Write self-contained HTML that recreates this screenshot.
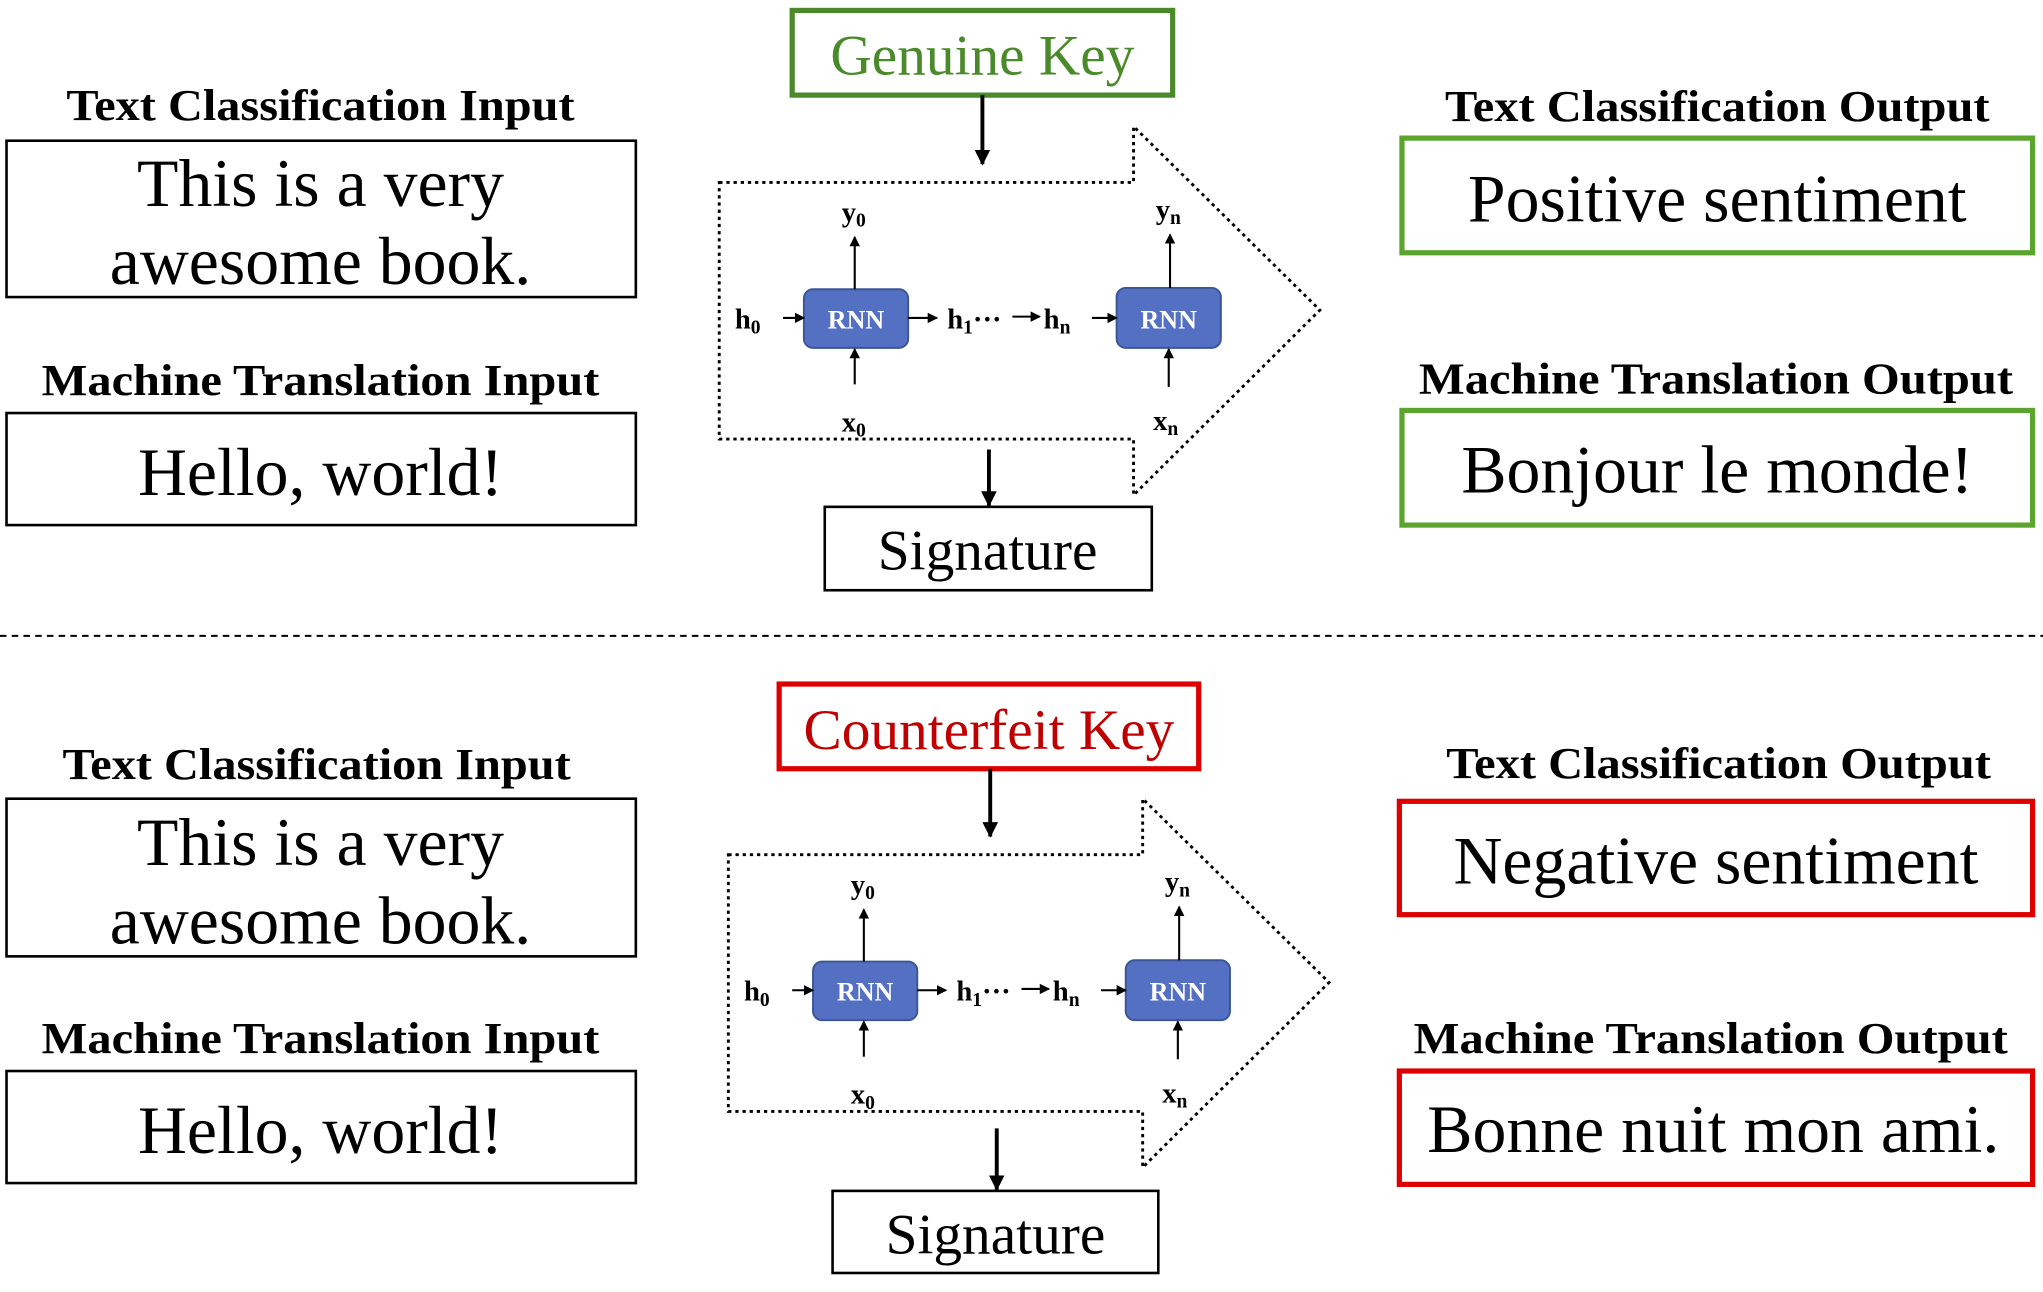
<!DOCTYPE html>
<html><head><meta charset="utf-8"><style>html,body{margin:0;padding:0;background:#fff}svg{display:block}svg text{font-family:"Liberation Serif","Times New Roman",serif}</style></head>
<body>
<svg width="2043" height="1292" viewBox="0 0 1568 991.6" preserveAspectRatio="none" xmlns="http://www.w3.org/2000/svg">
<defs>
<marker id="ah" markerWidth="8" markerHeight="8" refX="7" refY="4" orient="auto" markerUnits="userSpaceOnUse"><path d="M0,0 L8,4 L0,8 z" fill="#000"/></marker>
<marker id="ab" markerWidth="12" markerHeight="12" refX="11" refY="6" orient="auto" markerUnits="userSpaceOnUse"><path d="M0,0 L12,6 L0,12 z" fill="#000"/></marker>
<g id="rnn">
<path d="M0,0 L318,0 L318,-43 L461,98 L318,240 L318,197 L0,197 Z" fill="none" stroke="#000" stroke-width="2.2" stroke-dasharray="2.5,3"/>
<rect x="65" y="82" width="80" height="45" rx="7" fill="#5470c3" stroke="#3b5596" stroke-width="1.5"/>
<text x="105" y="112" text-anchor="middle" fill="#fff" font-weight="bold" font-size="20">RNN</text>
<rect x="305" y="81" width="80" height="46" rx="7" fill="#5470c3" stroke="#3b5596" stroke-width="1.5"/>
<text x="345" y="112" text-anchor="middle" fill="#fff" font-weight="bold" font-size="20">RNN</text>
<g stroke="#000" stroke-width="1.6">
<line x1="104" y1="82" x2="104" y2="42" marker-end="url(#ah)"/>
<line x1="346" y1="81" x2="346" y2="40" marker-end="url(#ah)"/>
<line x1="104" y1="155" x2="104" y2="128" marker-end="url(#ah)"/>
<line x1="345" y1="157" x2="345" y2="128" marker-end="url(#ah)"/>
<line x1="49" y1="104" x2="65" y2="104" marker-end="url(#ah)"/>
<line x1="145" y1="104" x2="167" y2="104" marker-end="url(#ah)"/>
<line x1="225" y1="103" x2="246" y2="103" marker-end="url(#ah)"/>
<line x1="286" y1="104" x2="305" y2="104" marker-end="url(#ah)"/>
</g>
<g font-weight="bold" font-size="22">
<text x="94" y="30">y<tspan font-size="15" dy="4">0</tspan></text>
<text x="335" y="28">y<tspan font-size="15" dy="4">n</tspan></text>
<text x="94" y="191">x<tspan font-size="15" dy="4">0</tspan></text>
<text x="333" y="190">x<tspan font-size="15" dy="4">n</tspan></text>
<text x="12" y="112">h<tspan font-size="15" dy="4">0</tspan></text>
<text x="175" y="112">h<tspan font-size="15" dy="4">1</tspan><tspan dy="-4">···</tspan></text>
<text x="249" y="112">h<tspan font-size="15" dy="4">n</tspan></text>
</g>
</g>
</defs>

<g font-weight="bold" font-size="34" text-anchor="middle">
<text x="246" y="92" textLength="390" lengthAdjust="spacingAndGlyphs">Text Classification Input</text>
<text x="246" y="303" textLength="428" lengthAdjust="spacingAndGlyphs">Machine Translation Input</text>
<text x="1318" y="93" textLength="418" lengthAdjust="spacingAndGlyphs">Text Classification Output</text>
<text x="1317" y="302" textLength="456" lengthAdjust="spacingAndGlyphs">Machine Translation Output</text>
</g>
<rect x="5" y="108" width="483" height="120" fill="none" stroke="#000" stroke-width="2"/>
<rect x="5" y="317" width="483" height="86" fill="none" stroke="#000" stroke-width="2"/>
<g font-size="52" text-anchor="middle">
<text x="246" y="158">This is a very</text>
<text x="246" y="218">awesome book.</text>
<text x="246" y="380">Hello, world!</text>
<text x="1318" y="170">Positive sentiment</text>
<text x="1318" y="378">Bonjour le monde!</text>
</g>
<rect x="1076" y="106" width="484" height="88" fill="none" stroke="#5ba52f" stroke-width="4"/>
<rect x="1076" y="315" width="484" height="88" fill="none" stroke="#5ba52f" stroke-width="4"/>
<rect x="608" y="8" width="292" height="65" fill="none" stroke="#4a8a2a" stroke-width="4"/>
<text x="754" y="57" text-anchor="middle" font-size="44" fill="#4a8a2a">Genuine Key</text>
<line x1="754" y1="73" x2="754" y2="126" stroke="#000" stroke-width="3" marker-end="url(#ab)"/>
<use href="#rnn" x="552" y="140"/>
<line x1="759" y1="345" x2="759" y2="388" stroke="#000" stroke-width="3" marker-end="url(#ab)"/>
<rect x="633" y="389" width="251" height="64" fill="none" stroke="#000" stroke-width="2"/>
<text x="758" y="437" text-anchor="middle" font-size="44">Signature</text>

<line x1="0" y1="488" x2="1568" y2="488" stroke="#000" stroke-width="1.5" stroke-dasharray="5,4"/>

<g font-weight="bold" font-size="34" text-anchor="middle">
<text x="243" y="598" textLength="390" lengthAdjust="spacingAndGlyphs">Text Classification Input</text>
<text x="246" y="808" textLength="428" lengthAdjust="spacingAndGlyphs">Machine Translation Input</text>
<text x="1319" y="597" textLength="418" lengthAdjust="spacingAndGlyphs">Text Classification Output</text>
<text x="1313" y="808" textLength="456" lengthAdjust="spacingAndGlyphs">Machine Translation Output</text>
</g>
<rect x="5" y="613" width="483" height="121" fill="none" stroke="#000" stroke-width="2"/>
<rect x="5" y="822" width="483" height="86" fill="none" stroke="#000" stroke-width="2"/>
<g font-size="52" text-anchor="middle">
<text x="246" y="664">This is a very</text>
<text x="246" y="724">awesome book.</text>
<text x="246" y="885">Hello, world!</text>
<text x="1317" y="678">Negative sentiment</text>
<text x="1315" y="884">Bonne nuit mon ami.</text>
</g>
<rect x="1074" y="615" width="486" height="87" fill="none" stroke="#dd0000" stroke-width="4"/>
<rect x="1074" y="822" width="486" height="87" fill="none" stroke="#dd0000" stroke-width="4"/>
<rect x="598" y="525" width="322" height="65" fill="none" stroke="#dd0000" stroke-width="4"/>
<text x="759" y="575" text-anchor="middle" font-size="44" fill="#c00000">Counterfeit Key</text>
<line x1="760" y1="590" x2="760" y2="642" stroke="#000" stroke-width="3" marker-end="url(#ab)"/>
<use href="#rnn" x="559" y="656"/>
<line x1="765" y1="866" x2="765" y2="913" stroke="#000" stroke-width="3" marker-end="url(#ab)"/>
<rect x="639" y="914" width="250" height="63" fill="none" stroke="#000" stroke-width="2"/>
<text x="764" y="962" text-anchor="middle" font-size="44">Signature</text>
</svg>
</body></html>
